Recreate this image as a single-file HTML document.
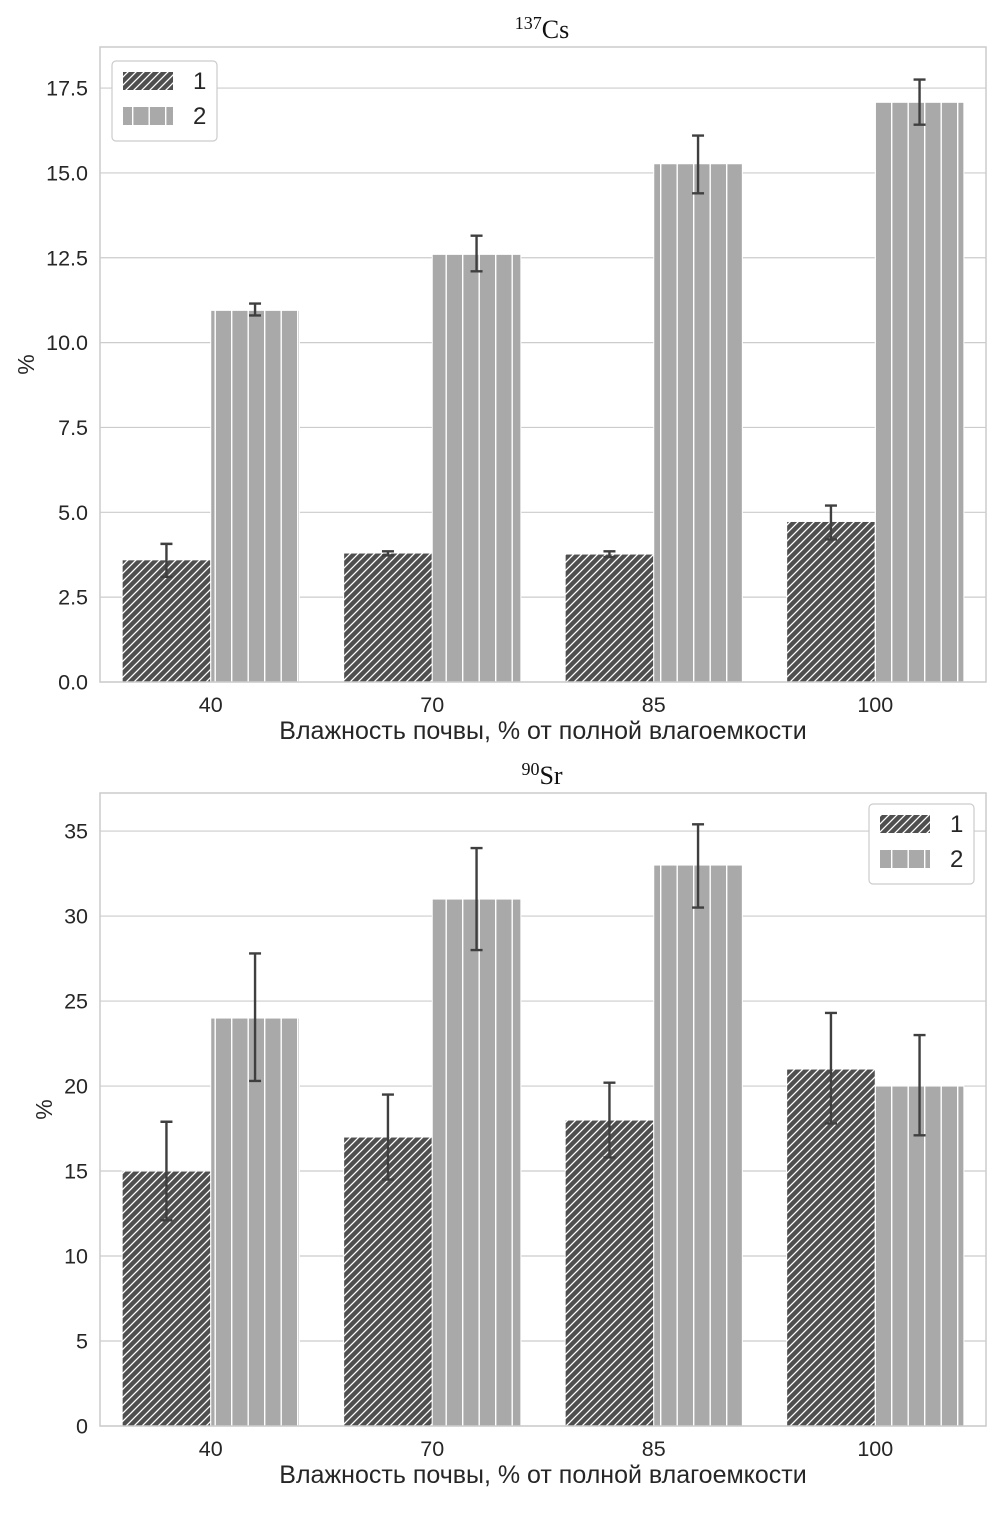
<!DOCTYPE html>
<html><head><meta charset="utf-8"><style>
body{margin:0;background:#fff;}
svg{display:block;font-family:"Liberation Sans",sans-serif;}
</style></head><body>
<svg id="c" width="1008" height="1515">
<defs>
<pattern id="diag" patternUnits="userSpaceOnUse" width="8" height="8">
<rect width="8" height="8" fill="#4f4f4f"/>
<path d="M-2,10 L10,-2 M-6,6 L6,-6 M2,14 L14,2" stroke="#fff" stroke-width="1.3"/>
</pattern>
<pattern id="vert" patternUnits="userSpaceOnUse" width="16.5" height="10" x="0">
<rect width="16.5" height="10" fill="#a9a9a9"/>
<rect x="0" width="1.4" height="10" fill="#fff"/>
</pattern>
</defs>
</svg>
<script>
const categories=["40","70","85","100"];
const csS1=[3.6,3.8,3.77,4.73];
const csS1Lo=[3.1,3.73,3.68,4.2];
const csS1Hi=[4.07,3.85,3.85,5.2];
const csS2=[10.95,12.6,15.27,17.08];
const csS2Lo=[10.8,12.1,14.4,16.42];
const csS2Hi=[11.15,13.15,16.1,17.75];
const csTicks=[0,2.5,5,7.5,10,12.5,15,17.5];
const srS1=[15,17,18,21];
const srS1Lo=[12.1,14.5,15.8,17.8];
const srS1Hi=[17.9,19.5,20.2,24.3];
const srS2=[24,31,33,20];
const srS2Lo=[20.3,28,30.5,17.1];
const srS2Hi=[27.8,34,35.4,23];
const srTicks=[0,5,10,15,20,25,30,35];
const NS="http://www.w3.org/2000/svg";
const svg=document.getElementById('c');
function el(t,a,p){const e=document.createElementNS(NS,t);for(const k in a)e.setAttribute(k,a[k]);(p||svg).appendChild(e);return e;}
function panel(o){
 const g=el('g',{});
 
 
 const L=100,R=986,T=o.top,B=o.bottom;
 const y=v=>B-(v/o.ymax)*(B-T);
 const bw=(R-L)/categories.length;
 const xc=i=>L+bw*(i+0.5);
 o.ticks.forEach(t=>{
  const gl=el('line',{x1:L,x2:R,y1:y(t),y2:y(t),stroke:'#cccccc','stroke-width':1.2},g);
  
  
  const tl=el('text',{x:L-12,y:y(t)+7.5,'text-anchor':'end','font-size':21.5,fill:'#262626'},g);
  tl.textContent=o.fmt(t);
  
  
 });
 const w=bw*0.4;
 function bars(vals,lo,hi,fill,off,sname){
  vals.forEach((v,i)=>{
   const x0=xc(i)+off*w;
   const r=el('rect',{x:x0,y:y(v),width:w,height:B-y(v),fill:fill,stroke:'#fff','stroke-width':1},g);
   
   
   const cx=x0+w/2;
   const eb=el('path',{d:`M${cx},${y(lo[i])}V${y(hi[i])}M${cx-6},${y(lo[i])}H${cx+6}M${cx-6},${y(hi[i])}H${cx+6}`,stroke:'#3f3f3f','stroke-width':2.4,fill:'none'},g);
   
   
  });
 }
 bars(o.s1,o.s1lo,o.s1hi,'url(#diag)',-1,'series1');
 bars(o.s2,o.s2lo,o.s2hi,'url(#vert)',0,'series2');
 const fr=el('rect',{x:L,y:T,width:R-L,height:B-T,fill:'none',stroke:'#cccccc','stroke-width':1.5},g);
 
 
 categories.forEach((c,i)=>{
  const t=el('text',{x:xc(i),y:B+30,'text-anchor':'middle','font-size':21.5,fill:'#262626'},g);
  t.textContent=c;
  
  
 });
 const xt=el('text',{x:543,y:B+57,'text-anchor':'middle','font-size':25,fill:'#262626'},g);
 xt.textContent='Влажность почвы, % от полной влагоемкости';
 
 
 const yt=el('text',{x:0,y:0,'text-anchor':'middle','font-size':23,fill:'#262626',transform:`translate(${o.ytx},${(T+B)/2}) rotate(-90)`},g);
 yt.textContent='%';
 
 
 const ti=el('text',{x:542,y:T-9,'text-anchor':'middle','font-size':26,fill:'#111','font-family':'Liberation Serif, serif'},g);
 ti.innerHTML=`<tspan font-size="18" dy="-9">${o.sup}</tspan><tspan dy="9">${o.el}</tspan>`;
 
 
 const lg=el('g',{},g);
 
 
 const lx=o.lx,ly=o.ly;
 el('rect',{x:lx,y:ly,width:105,height:80,rx:4,fill:'#fff',stroke:'#cccccc','stroke-width':1.2},lg);
 el('rect',{x:lx+11,y:ly+11,width:50,height:18,fill:'url(#diag)'},lg);
 el('rect',{x:lx+11,y:ly+46,width:50,height:18,fill:'url(#vert)'},lg);
 const t1=el('text',{x:lx+81,y:ly+28,'font-size':24,fill:'#262626'},lg);t1.textContent='1';
 
 
 const t2=el('text',{x:lx+81,y:ly+63,'font-size':24,fill:'#262626'},lg);t2.textContent='2';
 
 
}
panel({name:'cs137-panel',top:47,bottom:682,ymax:18.71,ticks:csTicks,fmt:t=>t.toFixed(1),s1:csS1,s1lo:csS1Lo,s1hi:csS1Hi,s2:csS2,s2lo:csS2Lo,s2hi:csS2Hi,sup:'137',el:'Cs',lx:112,ly:61,ytx:34});
panel({name:'sr90-panel',top:793,bottom:1426,ymax:37.24,ticks:srTicks,fmt:t=>String(t),s1:srS1,s1lo:srS1Lo,s1hi:srS1Hi,s2:srS2,s2lo:srS2Lo,s2hi:srS2Hi,sup:'90',el:'Sr',lx:869,ly:804,ytx:52});
</script>
</body></html>
